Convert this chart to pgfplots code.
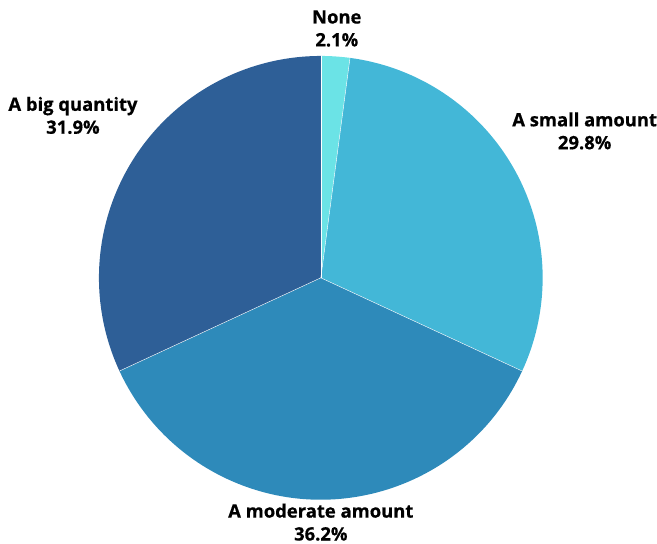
\documentclass[border=0pt]{standalone}
\usepackage{pgfplots}
\usepackage{pgfplotstable}
\usepackage{fontspec}
\setmainfont{Open Sans}[BoldFeatures={FakeBold=0.6}]
\pgfplotsset{compat=1.18}
\definecolor{cNone}{HTML}{6BE3E6}
\definecolor{cSmall}{HTML}{43B7D7}
\definecolor{cModerate}{HTML}{2E8ABA}
\definecolor{cBig}{HTML}{2E5F97}
\pgfplotstableread{
label value
None 2.1
Small 29.8
Moderate 36.2
Big 31.9
}\piedata
\begin{document}
\begin{tikzpicture}
\pgfplotstablegetelem{0}{value}\of\piedata \let\va\pgfplotsretval
\pgfplotstablegetelem{1}{value}\of\piedata \let\vb\pgfplotsretval
\pgfplotstablegetelem{2}{value}\of\piedata \let\vc\pgfplotsretval
\pgfplotstablegetelem{3}{value}\of\piedata \let\vd\pgfplotsretval
\pgfmathsetmacro\aA{90}
\pgfmathsetmacro\aB{\aA-3.6*\va}
\pgfmathsetmacro\aC{\aB-3.6*\vb}
\pgfmathsetmacro\aD{\aC-3.6*\vc}
\pgfmathsetmacro\aE{\aD-3.6*\vd}
\begin{axis}[
  scale only axis, width=657bp, height=544bp,
  xmin=0, xmax=657, ymin=0, ymax=544,
  hide axis, clip=false,
]
\path (rel axis cs:0,0) rectangle (rel axis cs:1,1);
\fill[cNone] (axis cs:321,266) -- ++(\aA:222bp) arc[start angle=\aA, end angle=\aB, radius=222bp] -- cycle;
\fill[cSmall] (axis cs:321,266) -- ++(\aB:222bp) arc[start angle=\aB, end angle=\aC, radius=222bp] -- cycle;
\fill[cModerate] (axis cs:321,266) -- ++(\aC:222bp) arc[start angle=\aC, end angle=\aD, radius=222bp] -- cycle;
\fill[cBig] (axis cs:321,266) -- ++(\aD:222bp) arc[start angle=\aD, end angle=\aE, radius=222bp] -- cycle;
\draw[white, line width=0.4pt] (axis cs:321,266) -- ++(\aA:222bp);
\draw[white, line width=0.4pt] (axis cs:321,266) -- ++(\aB:222bp);
\draw[white, line width=0.4pt] (axis cs:321,266) -- ++(\aC:222bp);
\draw[white, line width=0.4pt] (axis cs:321,266) -- ++(\aD:222bp);
\tikzset{lbl/.style={align=center, font=\bfseries\fontsize{18.5}{23}\selectfont, inner sep=0pt}}
\node[lbl] at (axis cs:337,515.5) {None\\\va\%};
\node[lbl] at (axis cs:585,413) {A small amount\\\vb\%};
\node[lbl] at (axis cs:321,21.5) {A moderate amount\\\vc\%};
\node[lbl] at (axis cs:73,428.5) {A big quantity\\\vd\%};
\end{axis}
\end{tikzpicture}
\end{document}
